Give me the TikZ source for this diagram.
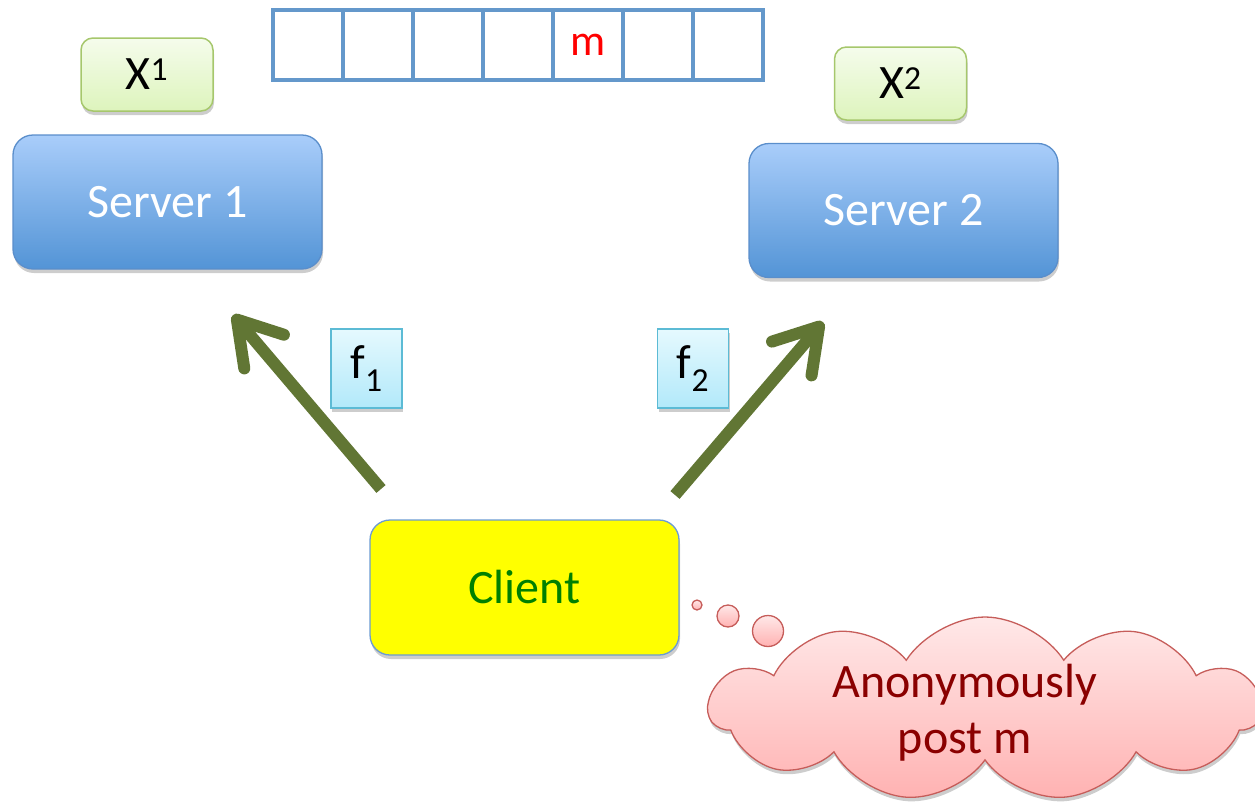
\documentclass[tikz,border=0pt]{standalone}
\usepackage{fontspec}
\setmainfont{Carlito}
\usetikzlibrary{arrows.meta,shapes.symbols,shadows}

\definecolor{servertop}{HTML}{A9CDFA}
\definecolor{serverbot}{HTML}{5394D6}
\definecolor{serverline}{HTML}{5A8ECB}
\definecolor{xtop}{HTML}{F5FCEC}
\definecolor{xbot}{HTML}{DDF4BC}
\definecolor{xline}{HTML}{A6C76C}
\definecolor{ftop}{HTML}{E5F9FE}
\definecolor{fbot}{HTML}{B2E9FA}
\definecolor{fline}{HTML}{5CBBD5}
\definecolor{clientfill}{HTML}{FFFF00}
\definecolor{clientline}{HTML}{6C9BD2}
\definecolor{clienttext}{HTML}{008000}
\definecolor{cellline}{HTML}{6498CB}
\definecolor{arrowgreen}{HTML}{617634}
\definecolor{cloudtop}{HTML}{FFE8E8}
\definecolor{cloudbot}{HTML}{FFB2B2}
\definecolor{cloudline}{HTML}{C65D5A}
\definecolor{clouddark}{HTML}{8A0000}

\begin{document}
\begin{tikzpicture}[x=1pt,y=-1pt,
  bigfont/.style={font=\fontsize{48}{56}\selectfont},
  softshadow/.style={drop shadow={shadow xshift=1pt,shadow yshift=-4pt,opacity=0.28,fill=black!70}},
  server/.style={draw=serverline,line width=1.3pt,rounded corners=20pt,
    top color=servertop,bottom color=serverbot,minimum width=309pt,
    minimum height=134pt,text=white,bigfont,softshadow},
  xbox/.style={draw=xline,line width=1.5pt,rounded corners=12pt,
    top color=xtop,bottom color=xbot,minimum width=132pt,minimum height=73pt,
    inner sep=0pt,bigfont,softshadow},
  fbox/.style={draw=fline,line width=1.3pt,top color=ftop,bottom color=fbot,
    minimum width=71pt,minimum height=79pt,inner sep=0pt,bigfont,softshadow},
  clientbox/.style={draw=clientline,line width=1.3pt,rounded corners=20pt,
    fill=clientfill,minimum width=309pt,minimum height=135pt,text=clienttext,
    bigfont,softshadow},
  cell/.style={draw=cellline,line width=4.5pt,minimum width=70pt,
    minimum height=70pt,inner sep=0pt,outer sep=0pt},
  bubble/.style={circle,draw=cloudline,line width=1.3pt,top color=cloudtop,
    bottom color=cloudbot,inner sep=0pt},
  thought/.style={cloud,cloud puffs=11,cloud puff arc=115,cloud ignores aspect,
    draw=cloudline,line width=1.3pt,top color=cloudtop,bottom color=cloudbot,
    softshadow},
  thoughttext/.style={text=clouddark,align=center,bigfont},
  flow/.style={draw=arrowgreen,line width=12pt,
    -{Straight Barb[length=42pt,width=52pt,round]}}
]
\useasboundingbox (0,0) rectangle (1255,806);

% message board
\foreach \i in {1,...,7}
  \node[cell] (c\i) at ({238+70*\i},45) {};
\node[text=red,font=\fontsize{44}{50}\selectfont] (msg) at (c5) {m};

% servers and their databases
\node[server] (s1) at (167.5,202) {Server 1};
\node[server] (s2) at (903.5,210.5) {Server 2};
\node[xbox] (x1) at (147,74.5) {X\textsuperscript{1}};
\node[xbox] (x2) at (900.5,83.5) {X\textsuperscript{2}};

% queries
\node[fbox] (f1) at (366.5,368.5) {f\textsubscript{1}};
\node[fbox] (f2) at (693,368.5) {f\textsubscript{2}};

% client
\node[clientbox] (cl) at (524.5,587.5) {Client};

% query arrows
\coordinate (a1tail) at (381,489);
\coordinate (a1head) at (233,315);
\coordinate (a2tail) at (675,495);
\coordinate (a2head) at (823,322);
\draw[flow] (a1tail) -- (a1head);
\draw[flow] (a2tail) -- (a2head);

% thought
\node[bubble,minimum size=10pt] (b1) at (697,605) {};
\node[bubble,minimum size=22pt] (b2) at (728,616) {};
\node[bubble,minimum size=31pt] (b3) at (768,631) {};
\node[thought,minimum width=552pt,minimum height=184pt] (wish) at (985,709) {};
\node[thoughttext] (wishtext) at (965,713) {Anonymously\\post m};
\end{tikzpicture}
\end{document}
